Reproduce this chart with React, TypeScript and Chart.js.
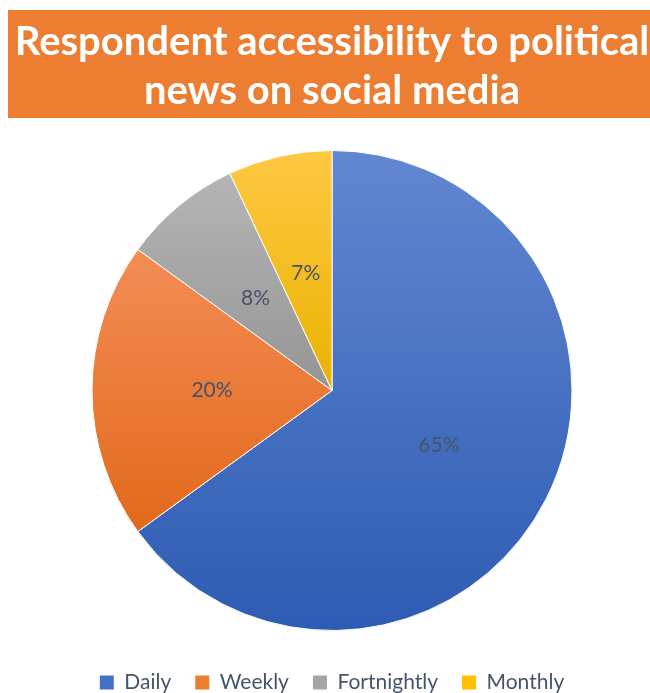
import React, { useEffect, useRef } from "react";
import { Chart, registerables } from "chart.js";

Chart.register(...registerables);

const categories = ["Daily", "Weekly", "Fortnightly", "Monthly"];
const values = [65, 20, 8, 7];
const gradientTops = ["#6287D1", "#F38D55", "#B5B5B5", "#FFC843"];
const gradientBottoms = ["#2D5CB3", "#E3691B", "#959595", "#E8B300"];
const legendColors = ["#4472C4", "#ED7D31", "#A5A5A5", "#FFC000"];
const titleLines = ["Respondent accessibility to political", "news on social media"];

const FONT = "Lato, 'Open Sans', sans-serif";
const LABEL_COLOR = "#44546A";

function sliceGradient(ctx: any) {
  const chart = ctx.chart;
  const area = chart.chartArea;
  const i = ctx.dataIndex;
  if (!area || i === undefined) return legendColors[i ?? 0];
  const total = values.reduce((a, b) => a + b, 0);
  const before = values.slice(0, i).reduce((a, b) => a + b, 0);
  const cx = (area.left + area.right) / 2;
  const cy = (area.top + area.bottom) / 2;
  const r = Math.min(area.width, area.height) / 2;
  const start = -Math.PI / 2 + (2 * Math.PI * before) / total;
  const end = start + (2 * Math.PI * values[i]) / total;
  const ys = [cy, cy + r * Math.sin(start), cy + r * Math.sin(end)];
  for (const k of [-Math.PI / 2, Math.PI / 2, (3 * Math.PI) / 2]) {
    if (k >= start && k <= end) ys.push(cy + r * Math.sin(k));
  }
  const minY = Math.min(...ys);
  const maxY = Math.max(...ys);
  const g = chart.ctx.createLinearGradient(0, minY, 0, Math.max(maxY, minY + 1));
  g.addColorStop(0, gradientTops[i]);
  g.addColorStop(1, gradientBottoms[i]);
  return g;
}

const titleBoxPlugin = {
  id: "titleBox",
  beforeDraw(chart: any) {
    const ctx = chart.ctx;
    ctx.save();
    ctx.fillStyle = "#ED7D31";
    ctx.fillRect(8, 10, chart.width - 8, 108);
    ctx.restore();
  },
};

const sliceLabelPlugin = {
  id: "sliceLabels",
  afterDatasetsDraw(chart: any) {
    const ctx = chart.ctx;
    const meta = chart.getDatasetMeta(0);
    ctx.save();
    ctx.font = `21px ${FONT}`;
    ctx.fillStyle = LABEL_COLOR;
    ctx.textAlign = "center";
    ctx.textBaseline = "middle";
    meta.data.forEach((arc: any, i: number) => {
      const p = arc.tooltipPosition(false);
      ctx.fillText(`${values[i]}%`, p.x, p.y);
    });
    ctx.restore();
  },
};

export default function App() {
  const canvasRef = useRef<HTMLCanvasElement | null>(null);

  useEffect(() => {
    if (!canvasRef.current) return;
    const chart = new Chart(canvasRef.current, {
      type: "pie",
      data: {
        labels: categories,
        datasets: [
          {
            data: values,
            backgroundColor: sliceGradient as any,
            borderColor: "#FFFFFF",
            borderWidth: 1,
          },
        ],
      },
      options: {
        responsive: false,
        animation: false,
        devicePixelRatio: 1,
        layout: { padding: { top: 10, left: 14, right: 0, bottom: 0 } },
        plugins: {
          title: {
            display: true,
            text: titleLines,
            color: "#FFFFFF",
            font: { family: FONT, size: 40, weight: "bold", lineHeight: 49 / 40 },
            padding: { top: 8, bottom: 34 },
          },
          legend: {
            position: "bottom",
            title: {
              display: true,
              text: " ",
              font: { size: 1, lineHeight: 1 },
              padding: { top: 16, bottom: 0 },
            },
            labels: {
              boxWidth: 14,
              boxHeight: 14,
              padding: 24,
              color: LABEL_COLOR,
              font: { family: FONT, size: 21 },
              generateLabels: () =>
                categories.map((c, i) => ({
                  text: c,
                  fillStyle: legendColors[i],
                  strokeStyle: legendColors[i],
                  lineWidth: 0,
                  fontColor: LABEL_COLOR,
                  hidden: false,
                  index: i,
                })),
            },
          },
          tooltip: { enabled: false },
        },
      },
      plugins: [titleBoxPlugin, sliceLabelPlugin],
    });
    return () => chart.destroy();
  }, []);

  return (
    <div
      style={{
        position: "absolute",
        left: 0,
        top: 0,
        width: 650,
        height: 693,
        overflow: "hidden",
        background: "#FFFFFF",
      }}
    >
      <canvas ref={canvasRef} width={650} height={703} style={{ display: "block" }} />
    </div>
  );
}
